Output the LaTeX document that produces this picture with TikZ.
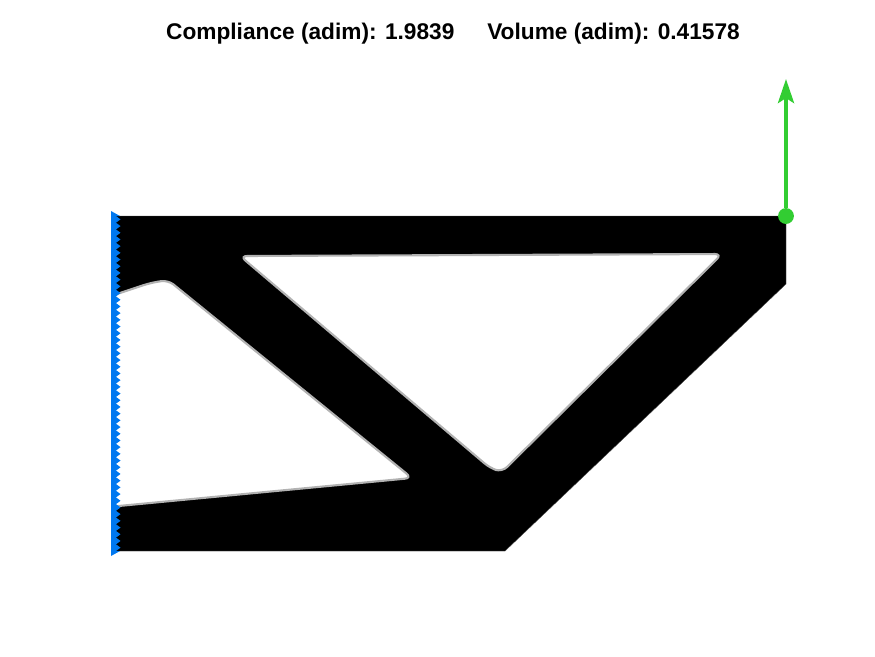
\documentclass[tikz,border=0pt]{standalone}
\usepackage{fontspec}
\setmainfont{Liberation Sans}
\usetikzlibrary{arrows.meta}
\usetikzlibrary{positioning}
\definecolor{loadgreen}{RGB}{50,205,50}
\definecolor{fixblue}{RGB}{0,120,240}
\begin{document}
\begin{tikzpicture}[x=0.01cm, y=-0.01cm, thick,
	main/.style = {draw=loadgreen, circle, fill=loadgreen, inner sep=0pt, minimum size=0.13cm},
	solid part/.style = {fill=black, draw=black!70, line width=0.1pt},
	void/.style = {fill=white, draw=black!30, line width=0.6pt, rounded corners=0.07cm},
	load/.style = {draw=loadgreen, line width=1.15pt, -{Stealth[length=0.24cm, width=0.16cm, inset=0.05cm]}}]
		\useasboundingbox (0,0) rectangle (875,656);
		\node[font=\bfseries, scale=0.645] (title) at (453, 34) {Compliance (adim): 1.9839\hspace{1.45em}Volume (adim): 0.41578};
		% material
		\fill[solid part] (113,216) -- (786,216) -- (786,284) -- (505,551) -- (113,551) -- cycle;
		\path[void] (240,256) -- (722,254) -- (502,472) -- (490,468) -- cycle;
		\path[void] (108,297) -- (150,283) -- (168,280) -- (412,478) -- (108,507) -- cycle;
		% supports
		\fill[white] (100,210) rectangle (111,560);
		\fill[fixblue] (111,211) -- (120,216) -- (111,216) -- cycle;
		\fill[fixblue] (111,551) -- (120,551) -- (111,556) -- cycle;
		\fill[fixblue] (111,216) rectangle (116,551);
		\foreach \y in {0,...,49} {
			\fill[fixblue] (116,216+\y*6.7) -- (120.5,216+\y*6.7+3.35) -- (116,216+\y*6.7+6.7) -- cycle;
		}
		% load
		\node[main] (force) at (786, 216) {};
		\coordinate (tip) at (786, 79);
		\draw[load] (force) -- (tip);
	\end{tikzpicture}
\end{document}
